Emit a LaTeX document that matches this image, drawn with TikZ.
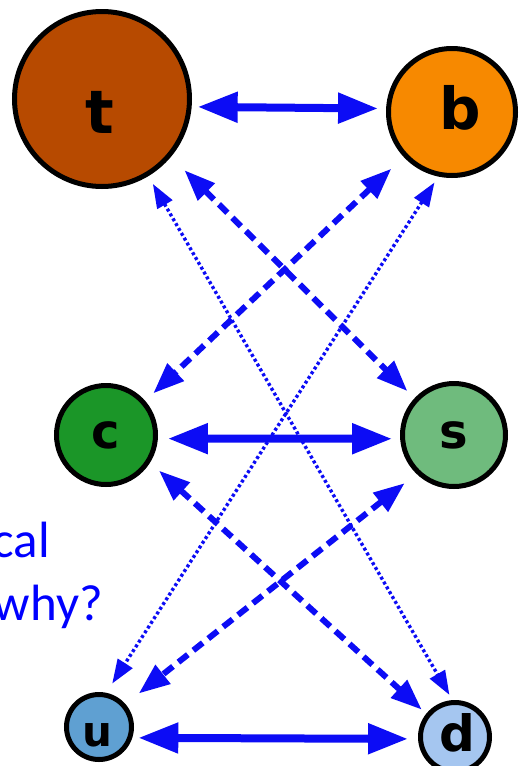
\documentclass[tikz,border=0pt]{standalone}
\usepackage{fontspec}
\setmainfont{Carlito}
\newfontfamily\lettf{DejaVu Sans}
\usetikzlibrary{arrows.meta}
\definecolor{arrblue}{RGB}{12,12,245}
\definecolor{txtblue}{RGB}{0,0,255}
\definecolor{tcol}{RGB}{183,74,0}
\definecolor{bcol}{RGB}{247,137,0}
\definecolor{ccol}{RGB}{27,150,40}
\definecolor{scol}{RGB}{111,187,125}
\definecolor{ucol}{RGB}{95,160,210}
\definecolor{dcol}{RGB}{165,198,240}
\begin{document}
\begin{tikzpicture}[x=1pt,y=-1pt,
  quark/.style={circle,draw=black,line width=5pt,inner sep=0pt},
  qlabel/.style={font=\lettf\bfseries\fontsize{#1}{#1}\selectfont, text=black},
  solidarr/.style={draw=arrblue, line width=8pt,
    {Triangle[length=40pt,width=29pt]}-{Triangle[length=40pt,width=29pt]}},
  dasharr/.style={draw=arrblue, line width=6pt, dash pattern=on 12pt off 7pt,
    {Triangle[length=31pt,width=23pt]}-{Triangle[length=31pt,width=23pt]}},
  dotarr/.style={draw=arrblue, line width=3.4pt, dash pattern=on 3pt off 2.6pt,
    {Triangle[length=24pt,width=17pt]}-{Triangle[length=24pt,width=17pt]}},
  note/.style={anchor=base east, font=\fontsize{51}{61}\selectfont, text=txtblue, inner sep=0pt}
]
\useasboundingbox (0,0) rectangle (523,766);

\node[quark, fill=tcol, minimum size=175pt, label={[qlabel=60, xshift=-2pt, yshift=-13pt]center:t}] (t) at (102,99) {};
\node[quark, fill=bcol, minimum size=127pt, label={[qlabel=58, xshift=8pt, yshift=4pt]center:b}] (b) at (452,112) {};
\node[quark, fill=ccol, minimum size=99pt, label={[qlabel=48]center:c}] (c) at (106,435) {};
\node[quark, fill=scol, minimum size=103pt, label={[qlabel=48]center:s}] (s) at (454,435) {};
\node[quark, fill=ucol, minimum size=65pt, label={[qlabel=42, xshift=-2pt, yshift=-8pt]center:u}] (u) at (99,727) {};
\node[quark, fill=dcol, minimum size=69pt, label={[qlabel=50, xshift=2pt, yshift=4pt]center:d}] (d) at (455,737) {};

% solid horizontal
\draw[solidarr, shorten <=6pt, shorten >=8pt] (t.-5) -- (b.177);
\draw[solidarr, shorten <=10pt, shorten >=8pt] (c.-4.6) -- (s.184.6);
\draw[solidarr, shorten <=6pt, shorten >=10pt] (u.-18) -- (d.183.7);

% dashed
\draw[dasharr, shorten <=19pt, shorten >=10pt] (t.-40.5) -- (s.137.5);
\draw[dasharr, shorten <=17pt, shorten >=11pt] (b.223.5) -- (c.41.8);
\draw[dasharr, shorten <=12pt, shorten >=6pt] (c.-32.2) -- (d.141.5);
\draw[dasharr, shorten <=15pt, shorten >=17pt] (s.226.2) -- (u.41.1);

% dotted
\draw[dotarr, shorten <=9pt, shorten >=6pt] (t.-59) -- (d.94);
\draw[dotarr, shorten <=7pt, shorten >=11pt] (b.258.1) -- (u.78.7);

\node[note] (cal) at (50,557) {cal};
\node[note] (why) at (103,620) {why?};
\end{tikzpicture}
\end{document}
